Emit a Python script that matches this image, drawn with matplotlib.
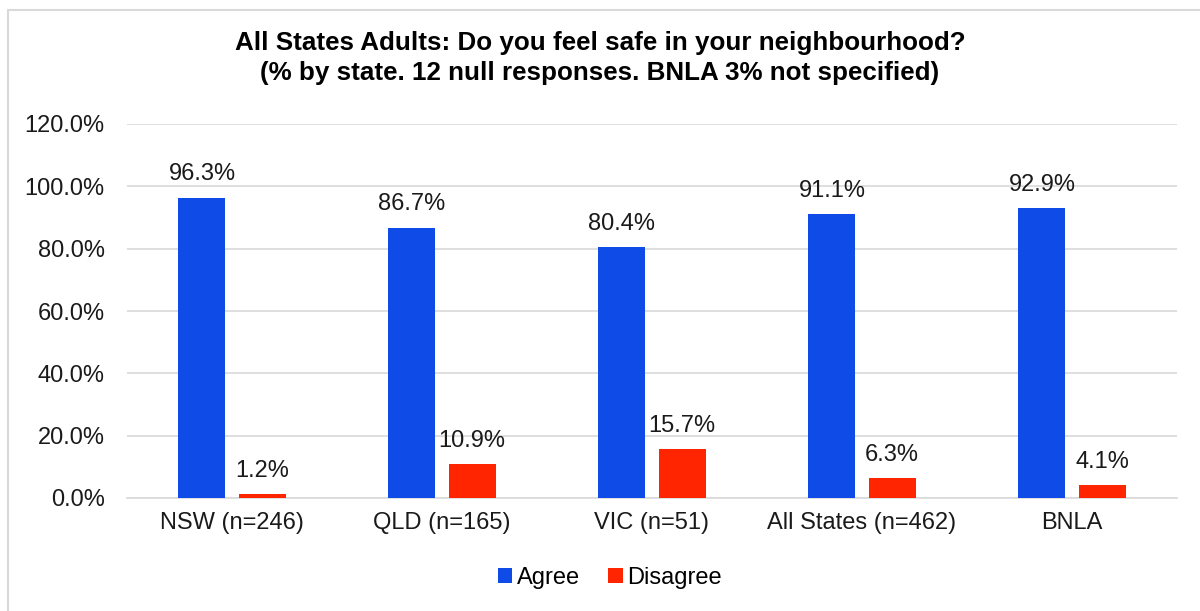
import numpy as np
import matplotlib.pyplot as plt
from matplotlib.patches import Rectangle

# 数据
categories = ['NSW (n=246)', 'QLD (n=165)', 'VIC (n=51)', 'All States (n=462)', 'BNLA']
agree = [96.3, 86.7, 80.4, 91.1, 92.9]
disagree = [1.2, 10.9, 15.7, 6.3, 4.1]
yticks = [0, 20, 40, 60, 80, 100, 120]

blue = '#0F4BE6'
red = '#FF2500'

plt.rcParams['font.family'] = ['Liberation Sans', 'DejaVu Sans']

fig = plt.figure(figsize=(12, 6.11), dpi=100)
ax = fig.add_axes([127/1200, 1 - 498/611, 1050/1200, (498 - 124)/611])

x = np.arange(len(categories))
w = 0.224
off = 0.143
b1 = ax.bar(x - off, agree, w, color=blue, label='Agree', zorder=3)
b2 = ax.bar(x + off, disagree, w, color=red, label='Disagree', zorder=3)

for bars, vals in ((b1, agree), (b2, disagree)):
    for b, v in zip(bars, vals):
        ax.text(b.get_x() + b.get_width() / 2, v + 4, f'{v:.1f}%',
                ha='center', va='bottom', fontsize=17, color='#1a1a1a')

ax.set_xlim(-0.5, len(categories) - 0.5)
ax.set_ylim(0, 120)
ax.set_yticks(yticks)
ax.set_yticklabels([f'{t:.1f}%' for t in yticks], fontsize=17, color='#1a1a1a')
ax.set_xticks(x)
ax.set_xticklabels(categories, fontsize=17, color='#1a1a1a')
ax.tick_params(axis='y', length=0, pad=16)
ax.tick_params(axis='x', length=0, pad=10)
ax.yaxis.grid(True, color='#d9d9d9', lw=1.2, zorder=0)
for s in ['top', 'right', 'left']:
    ax.spines[s].set_visible(False)
ax.spines['bottom'].set_color('#d9d9d9')
ax.spines['bottom'].set_linewidth(1.2)

fig.text(0.5, 1 - 43/611, 'All States Adults: Do you feel safe in your neighbourhood?',
         ha='center', va='center', fontsize=18.7, fontweight='bold')
fig.text(0.5, 1 - 73/611, '(% by state. 12 null responses. BNLA 3% not specified)',
         ha='center', va='center', fontsize=18.7, fontweight='bold')

fig.legend(handles=[b1, b2], labels=['Agree', 'Disagree'], loc='center',
           bbox_to_anchor=(610/1200, 1 - 578/611), ncol=2, frameon=False,
           fontsize=17, handlelength=0.6, handleheight=0.6, handletextpad=0.2,
           columnspacing=1.2)

# 外框
fig.patches.append(Rectangle((8/1200, -0.01), 1.1, 1 - 10/611 + 0.01,
                             transform=fig.transFigure, fill=False,
                             edgecolor='#d9d9d9', lw=1.5))

fig.savefig('out.png', dpi=100, facecolor='white')
